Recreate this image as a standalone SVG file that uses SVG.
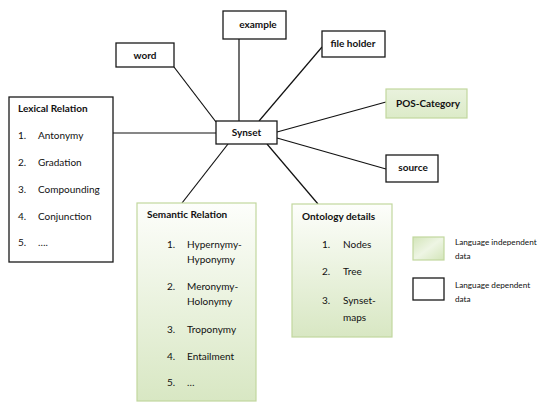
<svg xmlns="http://www.w3.org/2000/svg" width="542" height="403" viewBox="0 0 542 403">
<defs>
<linearGradient id="gv" x1="0" y1="0" x2="0" y2="1">
<stop offset="0" stop-color="#fdfefb"/>
<stop offset="1" stop-color="#d8e7c3"/>
</linearGradient>
<linearGradient id="gd" x1="0" y1="0" x2="1" y2="1">
<stop offset="0" stop-color="#d3e5b9"/>
<stop offset="0.5" stop-color="#eef5e4"/>
<stop offset="1" stop-color="#d3e5b9"/>
</linearGradient>
<linearGradient id="gp" x1="0" y1="0" x2="0" y2="1">
<stop offset="0" stop-color="#e9f2dd"/>
<stop offset="1" stop-color="#dcebc8"/>
</linearGradient>
</defs>
<style>
text{font-family:Lato,"Liberation Sans",sans-serif;fill:#111;font-size:10px}
.b{font-weight:bold}
.c{text-anchor:middle}
.k{fill:#fff;stroke:#1a1a1a;stroke-width:1.3}
.g{stroke:#c2d79e;stroke-width:1.2}
.l{font-size:8.2px}
#connectors line{stroke:#111;stroke-width:1.2}
</style>
<g id="connectors">
<line x1="113" y1="133" x2="216" y2="133"/>
<line x1="174" y1="67" x2="216" y2="122"/>
<line x1="239" y1="39" x2="239" y2="121"/>
<line x1="322" y1="47" x2="259" y2="121"/>
<line x1="277" y1="132" x2="386" y2="102"/>
<line x1="277" y1="138" x2="386" y2="169"/>
<line x1="228" y1="144" x2="182" y2="203"/>
<line x1="267" y1="144" x2="318" y2="204"/>
</g>
<g id="synset"><rect class="k" x="216" y="121" width="61" height="23"/><text class="b c" x="246.5" y="136">Synset</text></g>
<g id="word"><rect class="k" x="116" y="43" width="58" height="24"/><text class="b c" x="145" y="59">word</text></g>
<g id="example"><rect class="k" x="223" y="11" width="63" height="28"/><text class="b c" x="258" y="28">example</text></g>
<g id="fileholder"><rect class="k" x="322" y="31" width="63" height="26"/><text class="b c" x="353" y="47">file holder</text></g>
<g id="pos"><rect class="g" x="386" y="89" width="81" height="29" fill="url(#gp)"/><text class="b c" x="428" y="107">POS-Category</text></g>
<g id="source"><rect class="k" x="386" y="155" width="52" height="27"/><text class="b c" x="413" y="171">source</text></g>
<g id="lexical">
<rect class="k" x="9" y="97" width="104" height="165"/>
<text class="b" x="18" y="112">Lexical Relation</text>
<text x="18" y="139">1.</text><text x="38" y="139">Antonymy</text>
<text x="18" y="166">2.</text><text x="38" y="166">Gradation</text>
<text x="18" y="193">3.</text><text x="38" y="193">Compounding</text>
<text x="18" y="220">4.</text><text x="38" y="220">Conjunction</text>
<text x="18" y="246">5.</text><text x="38" y="246">….</text>
</g>
<g id="semantic">
<rect class="g" x="137" y="203" width="119" height="198" fill="url(#gv)"/>
<text class="b" x="147" y="218">Semantic Relation</text>
<text x="167" y="248">1.</text><text x="187" y="248">Hypernymy-</text><text x="187" y="263">Hyponymy</text>
<text x="167" y="290">2.</text><text x="187" y="290">Meronymy-</text><text x="187" y="305">Holonymy</text>
<text x="167" y="333">3.</text><text x="187" y="333">Troponymy</text>
<text x="167" y="360">4.</text><text x="187" y="360">Entailment</text>
<text x="167" y="386">5.</text><text x="187" y="386">…</text>
</g>
<g id="ontology">
<rect class="g" x="292" y="204" width="100" height="133" fill="url(#gv)"/>
<text class="b" x="302" y="220">Ontology details</text>
<text x="322" y="248">1.</text><text x="343" y="248">Nodes</text>
<text x="322" y="275">2.</text><text x="343" y="275">Tree</text>
<text x="322" y="304">3.</text><text x="343" y="304">Synset-</text><text x="343" y="321">maps</text>
</g>
<g id="legend-independent">
<rect class="g" x="413" y="237" width="31" height="23" fill="url(#gd)"/>
<text class="l" x="455" y="245">Language independent</text><text class="l" x="455" y="259">data</text>
</g>
<g id="legend-dependent">
<rect class="k" x="413" y="278" width="31" height="22"/>
<text class="l" x="455" y="288">Language dependent</text><text class="l" x="455" y="302">data</text>
</g>
</svg>
